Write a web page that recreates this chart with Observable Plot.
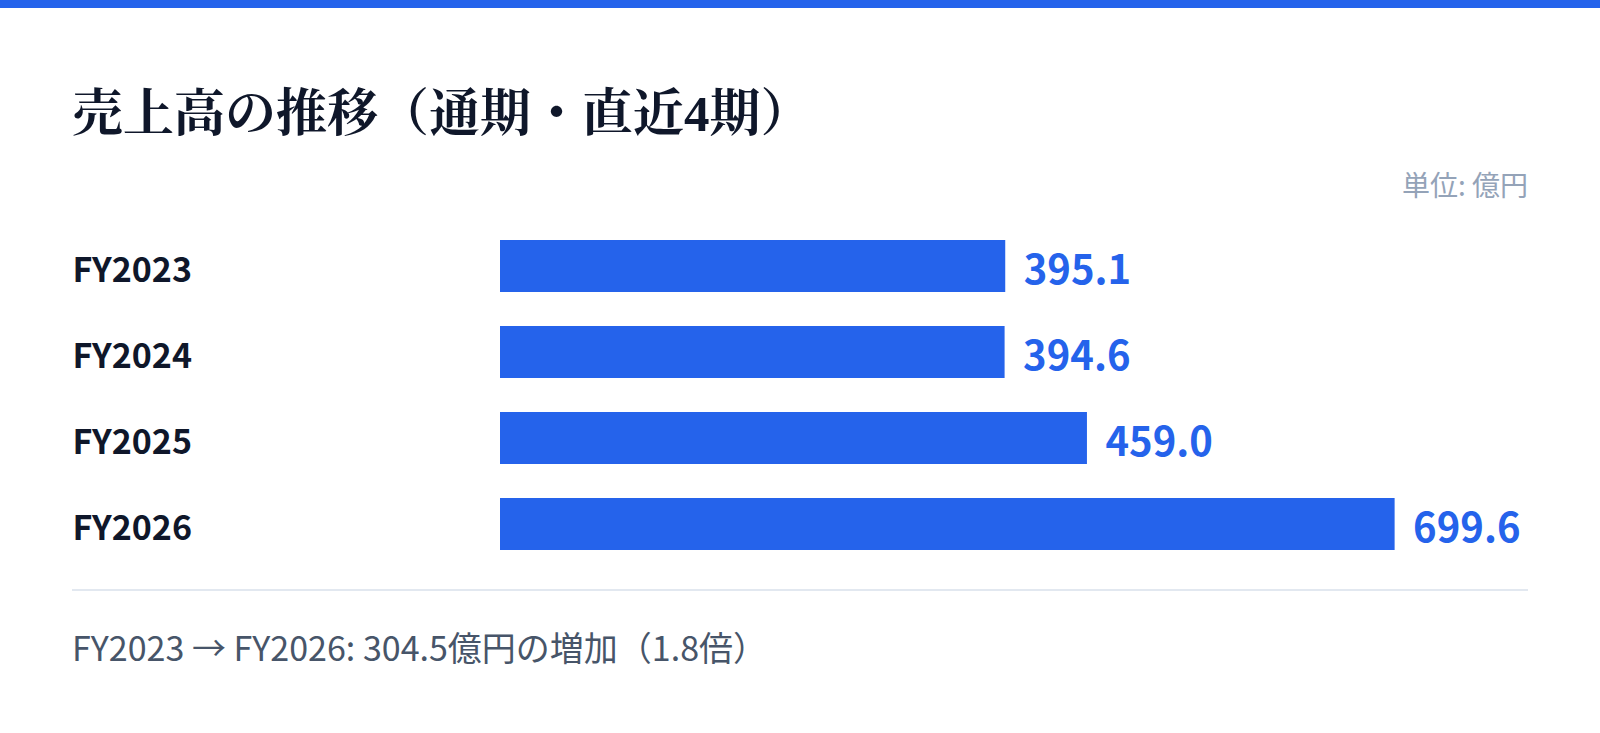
<!DOCTYPE html>
<html lang="ja">
<head>
<meta charset="utf-8">
<script src="https://cdn.jsdelivr.net/npm/d3@7"></script>
<script src="https://cdn.jsdelivr.net/npm/@observablehq/plot@0.6"></script>
<style>
  html, body { margin: 0; padding: 0; background: #ffffff; }
  body { width: 1600px; height: 733px; position: relative; overflow: hidden;
         font-family: "Noto Sans CJK JP", "Noto Sans", sans-serif; }
  .topbar { position: absolute; left: 0; top: 0; width: 1600px; height: 8px; background: #2563eb; }
  .title { position: absolute; left: 72px; top: 86px; line-height: 56px; font-size: 51px;
           font-weight: 700; color: #0f172a;
           font-family: "Liberation Serif", "Noto Serif CJK JP", serif; white-space: nowrap; }
  .unit { position: absolute; right: 72px; top: 167px; line-height: 34px; font-size: 28px;
          color: #94a3b8; }
  #chart { position: absolute; left: 72px; top: 223px; }
  .divider { position: absolute; left: 72px; top: 589px; width: 1456px; height: 2px; background: #e2e8f0; }
  .footer { position: absolute; left: 72px; top: 627px; line-height: 40px; font-size: 34px;
            color: #475569; white-space: nowrap; }
</style>
</head>
<body>
<div class="topbar"></div>
<div class="title">売上高の推移（通期・直近4期）</div>
<div class="unit">単位: 億円</div>
<div id="chart"></div>
<div class="divider"></div>
<div class="footer" id="footer"></div>
<script>
const years = ["FY2023", "FY2024", "FY2025", "FY2026"];
const sales = [395.1, 394.6, 459.0, 699.6];
const unitLabel = "億円";

const data = years.map((fy, i) => ({fy, value: sales[i]}));

const chart = Plot.plot({
  width: 1456,
  height: 344,
  marginLeft: 428,
  marginRight: 5,
  marginTop: 0,
  marginBottom: 0,
  style: {fontFamily: "'Noto Sans CJK JP', 'Noto Sans', sans-serif", background: "transparent"},
  x: {domain: [0, 800], axis: null},
  y: {domain: years, paddingInner: 34 / 86, paddingOuter: 17 / 86, align: 0.5, label: null},
  marks: [
    Plot.barX(data, {x: "value", y: "fy", fill: "#2563eb"}),
    Plot.axisY({tickSize: 0, tickPadding: 0, textAnchor: "start", dx: -428, dy: 5,
                fontSize: 34, fontWeight: 700, fill: "#0f172a", label: null}),
    Plot.text(data, {x: "value", y: "fy", text: d => d.value.toFixed(1), dx: 18, dy: 5,
                     textAnchor: "start", fontSize: 40, fontWeight: 700, fill: "#2563eb"})
  ]
});
document.getElementById("chart").appendChild(chart);

const first = sales[0], last = sales[sales.length - 1];
const diff = (last - first).toFixed(1);
const ratio = (last / first).toFixed(1);
document.getElementById("footer").textContent =
  `${years[0]} → ${years[years.length - 1]}: ${diff}${unitLabel}の増加（${ratio}倍）`;
</script>
</body>
</html>
